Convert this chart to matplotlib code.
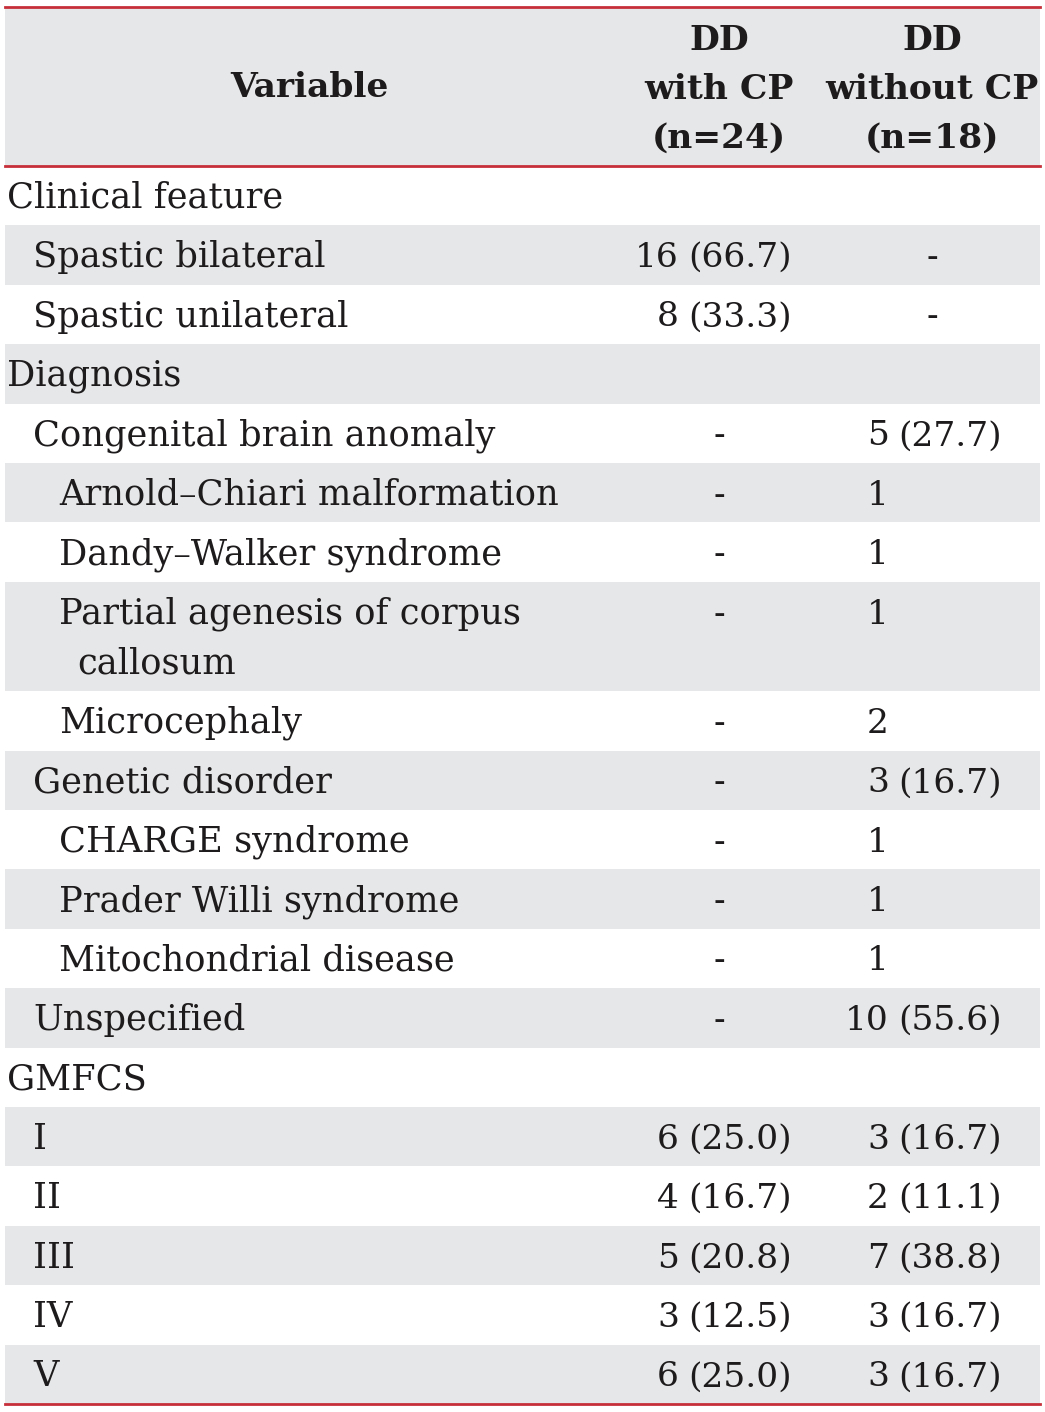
import matplotlib.pyplot as plt
from matplotlib.lines import Line2D
from matplotlib.patches import Rectangle

# Table content
header_var = 'Variable'
header_cols = ['DD\nwith CP\n(n=24)', 'DD\nwithout CP\n(n=18)']

labels = ['Clinical feature', 'Spastic bilateral', 'Spastic unilateral', 'Diagnosis',
          'Congenital brain anomaly', 'Arnold\u2013Chiari malformation', 'Dandy\u2013Walker syndrome',
          'Partial agenesis of corpus\ncallosum', 'Microcephaly', 'Genetic disorder',
          'CHARGE syndrome', 'Prader Willi syndrome', 'Mitochondrial disease', 'Unspecified',
          'GMFCS', 'I', 'II', 'III', 'IV', 'V']
levels = [0, 1, 1, 0, 1, 2, 2, 2, 2, 1, 2, 2, 2, 1, 0, 1, 1, 1, 1, 1]
with_cp = ['', '16 (66.7)', '8 (33.3)', '', '-', '-', '-', '-', '-', '-', '-', '-', '-', '-',
           '', '6 (25.0)', '4 (16.7)', '5 (20.8)', '3 (12.5)', '6 (25.0)']
without_cp = ['', '-', '-', '', '5 (27.7)', '1', '1', '1', '2', '3 (16.7)', '1', '1', '1',
              '10 (55.6)', '', '3 (16.7)', '2 (11.1)', '7 (38.8)', '3 (16.7)', '3 (16.7)']

W, H = 1045, 1412
fig = plt.figure(figsize=(W / 100, H / 100), dpi=100)
ax = fig.add_axes([0, 0, 1, 1])
ax.set_xlim(0, W)
ax.set_ylim(H, 0)
ax.axis('off')

red = '#c62f3a'
gray = '#e6e7e8'
ink = '#1e1b1c'
font = 'DejaVu Serif'
fs = 24.8
fs_lab = 25.4

left, right = 5, 1040
top, head_bot, bottom = 7, 166, 1404
line_gap = 50
n_lines = sum(lab.count('\n') + 1 for lab in labels)
unit = (bottom - head_bot - line_gap * (n_lines - len(labels))) / len(labels)
col_center = [719, 932]
count_edge = [679, 889]

# header
ax.add_patch(Rectangle((left, top), right - left, head_bot - top, color=gray, zorder=0, lw=0))
ax.text(309, (top + head_bot) / 2 + 1, header_var, ha='center', va='center',
        fontsize=fs, fontweight='bold', family=font, color=ink)
for c, txt in zip(col_center, header_cols):
    ax.text(c, (top + head_bot) / 2 + 3, txt, ha='center', va='center', fontsize=fs,
            fontweight='bold', family=font, color=ink, linespacing=1.62)

y = head_bot
for i, lab in enumerate(labels):
    lines = lab.split('\n')
    h = unit + line_gap * (len(lines) - 1)
    if i % 2 == 1:
        ax.add_patch(Rectangle((left, y), right - left, h, color=gray, zorder=0, lw=0))
    yc = y + unit / 2 + 12
    x0 = 7 + 26 * levels[i]
    for k, line in enumerate(lines):
        ax.text(x0 + (18 if k else 0), yc + k * line_gap, line,
                ha='left', va='baseline', fontsize=fs_lab, family=font, color=ink)
    for j, val in enumerate([with_cp[i], without_cp[i]]):
        if val == '-':
            ax.text(col_center[j], yc, val, ha='center', va='baseline',
                    fontsize=fs, family=font, color=ink)
        elif val:
            parts = val.split(' ', 1)
            ax.text(count_edge[j], yc, parts[0], ha='right', va='baseline',
                    fontsize=fs, family=font, color=ink)
            if len(parts) > 1:
                ax.text(count_edge[j] + 9, yc, parts[1], ha='left', va='baseline',
                        fontsize=fs, family=font, color=ink)
    y += h

for yy in [top, head_bot, bottom]:
    ax.add_line(Line2D([left, right], [yy, yy], color=red, lw=2))

fig.savefig('out.png', dpi=100)
